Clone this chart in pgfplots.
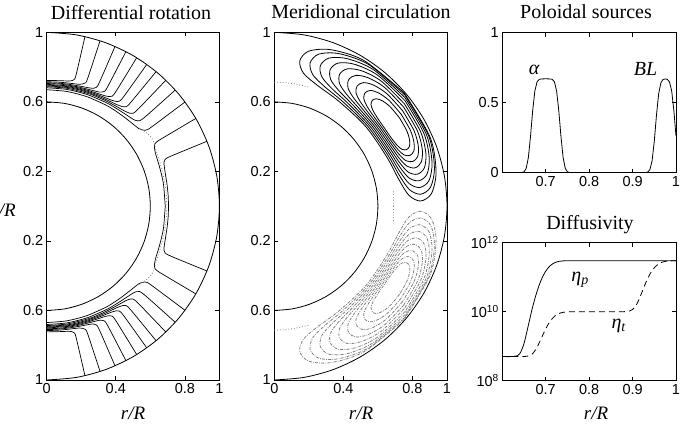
\documentclass[border=0pt]{standalone}
\usepackage{fontspec}
\setmainfont{Liberation Serif}
\setsansfont{Liberation Sans}
\usepackage{pgfplots}
\usepackage{pgfplotstable}
\pgfplotsset{compat=1.18}

\pgfplotsset{
  base/.style={scale only axis, axis line style={line width=0.7pt}, tick style={line width=0.6pt, black}, major tick length=4pt, tick align=inside,
    tick label style={font=\fontsize{14.5}{16}\selectfont\sffamily}, /pgf/number format/assume math mode=true},
  shell/.style={base, width=172.7pt, height=347.7pt, xmin=0, xmax=1, ymin=-1, ymax=1,
    xtick={0,0.4,0.8,1}, xticklabels={0,0.4,0.8,1},
    ytick={-1,-0.6,-0.2,0.2,0.6,1}, yticklabels={1,0.6,0.2,0.2,0.6,1}},
  mirror/.style={scale only axis, width=172.7pt, height=347.7pt, xmin=0, xmax=1, ymin=-1, ymax=1, y dir=reverse, hide axis},
  circ/.style={black, line width=0.8pt, smooth, data cs=polar},
  drs/.style={black, line width=0.7pt, smooth, tension=0.45, data cs=polar},
  dotl/.style={gray, line width=0.8pt, dotted, smooth, data cs=polar},
}

\pgfplotstableread{
lat r1 r6
-90 1 0.6
-80 1 0.6
-70 1 0.6
-60 1 0.6
-50 1 0.6
-40 1 0.6
-30 1 0.6
-20 1 0.6
-10 1 0.6
0 1 0.6
10 1 0.6
20 1 0.6
30 1 0.6
40 1 0.6
50 1 0.6
60 1 0.6
70 1 0.6
80 1 0.6
90 1 0.6
}\circles

\pgfplotstableread{
lat r
77.2 1
77.3 0.775
77.7 0.745
78.5 0.737
80 0.731
85 0.7248
90 0.7233
}\drA
\pgfplotstableread{
lat r
72 1
72.1 0.775
72.5 0.743
73.5 0.733
75 0.7255
80 0.719
85 0.7165
90 0.7155
}\drB
\pgfplotstableread{
lat r
66.7 1
66.8 0.775
67.2 0.741
68.2 0.730
70 0.7237
75 0.716
80 0.7123
85 0.7105
90 0.710
}\drC
\pgfplotstableread{
lat r
62.7 1
62.8 0.775
63.2 0.739
64.2 0.7285
65 0.7237
70 0.714
75 0.7097
80 0.7071
85 0.7058
90 0.7053
}\drD
\pgfplotstableread{
lat r
58.6 1
58.7 0.775
59.1 0.737
60.1 0.727
62 0.7188
65 0.713
70 0.7076
75 0.7044
80 0.7022
90 0.701
}\drE
\pgfplotstableread{
lat r
54.6 1
54.7 0.775
55.1 0.736
56.1 0.7252
58 0.717
60 0.7123
65 0.7058
70 0.7019
75 0.6994
80 0.6979
90 0.6967
}\drF
\pgfplotstableread{
lat r
50.7 1
50.8 0.775
51.2 0.734
52.2 0.723
55 0.7117
60 0.7039
65 0.6994
70 0.6965
75 0.6945
80 0.6932
90 0.6922
}\drG
\pgfplotstableread{
lat r
46.4 1
46.5 0.775
46.9 0.731
47.9 0.7202
50 0.7106
55 0.7013
60 0.6962
65 0.693
70 0.6907
80 0.688
90 0.6872
}\drH
\pgfplotstableread{
lat r
41.9 1
42.0 0.775
42.4 0.728
43.4 0.716
45 0.7072
50 0.6968
55 0.6914
60 0.6879
70 0.6835
80 0.6815
90 0.6808
}\drI
\pgfplotstableread{
lat r
36.8 1
36.85 0.775
37.0 0.731
37.5 0.7167
38.5 0.7051
40 0.6952
45 0.6852
50 0.68
55 0.677
60 0.6745
70 0.6712
80 0.6698
90 0.6695
}\drJ
\pgfplotstableread{
lat r
30.3 1
30.25 0.775
30.1 0.736
29.8 0.7223
28.8 0.7116
27 0.7031
25 0.6978
20 0.6919
15 0.689
10 0.6875
0 0.6865
}\drK
\pgfplotstableread{
lat r
21.9 1
21.8 0.775
21.4 0.736
20.4 0.7242
18 0.717
15 0.7117
10 0.7078
5 0.706
0 0.7055
}\drL
\pgfplotstableread{
lat r
40 0.70
37 0.712
34 0.722
31 0.722
28 0.712
22 0.703
14 0.698
6 0.696
0 0.695
}\drdot

\pgfplotstableread{
a0 r0 a1 r1 a2 r2 a3 r3 a4 r4 a5 r5 a6 r6 a7 r7 a8 r8
41 0.995 40.25 0.99 39.5 0.981 38.75 0.97 38 0.956 37.25 0.941 36.5 0.9236 35.75 0.905 35 0.885
58.24 0.9854 56.0 0.9809 53.75 0.9725 51.51 0.9622 49.27 0.949 47.03 0.9348 44.79 0.9183 42.55 0.9006 40.3 0.8816
70.05 0.9574 66.78 0.9543 63.52 0.9477 60.26 0.9394 56.99 0.9284 53.73 0.9166 50.47 0.9027 47.2 0.8878 43.94 0.8716
77.46 0.9127 73.56 0.9119 69.65 0.9082 65.75 0.903 61.84 0.8957 57.93 0.8877 54.03 0.878 50.12 0.8673 46.22 0.8557
80 0.8475 75.875 0.85 71.75 0.8505 67.625 0.85 63.5 0.848 59.375 0.8455 55.25 0.8418 51.125 0.8375 47 0.8325
77.46 0.7823 73.56 0.7881 69.65 0.7928 65.75 0.797 61.84 0.8003 57.93 0.8033 54.03 0.8056 50.12 0.8077 46.22 0.8093
70.05 0.7376 66.78 0.7457 63.52 0.7533 60.26 0.7606 56.99 0.7676 53.73 0.7744 50.47 0.7809 47.2 0.7872 43.94 0.7934
58.24 0.7096 56.0 0.7191 53.75 0.7285 51.51 0.7378 49.27 0.747 47.03 0.7562 44.79 0.7653 42.55 0.7744 40.3 0.7834
41 0.70 40.25 0.71 39.5 0.72 38.75 0.73 38 0.74 37.25 0.75 36.5 0.76 35.75 0.77 35 0.78
23.76 0.7096 24.5 0.7191 25.25 0.7285 25.99 0.7378 26.73 0.747 27.47 0.7562 28.21 0.7653 28.95 0.7744 29.7 0.7834
11.95 0.7376 13.72 0.7457 15.48 0.7533 17.24 0.7606 19.01 0.7676 20.77 0.7744 22.53 0.7809 24.3 0.7872 26.06 0.7934
4.54 0.7823 6.94 0.7881 9.35 0.7928 11.75 0.797 14.16 0.8003 16.57 0.8033 18.97 0.8056 21.38 0.8077 23.78 0.8093
2 0.8475 4.625 0.85 7.25 0.8505 9.875 0.85 12.5 0.848 15.125 0.8455 17.75 0.8418 20.375 0.8375 23 0.8325
4.54 0.9127 6.94 0.9119 9.35 0.9082 11.75 0.903 14.16 0.8957 16.57 0.8877 18.97 0.878 21.38 0.8673 23.78 0.8557
11.95 0.9574 13.72 0.9543 15.48 0.9477 17.24 0.9394 19.01 0.9284 20.77 0.9166 22.53 0.9027 24.3 0.8878 26.06 0.8716
23.76 0.9854 24.5 0.9809 25.25 0.9725 25.99 0.9622 26.73 0.949 27.47 0.9348 28.21 0.9183 28.95 0.9006 29.7 0.8816
41 0.995 40.25 0.99 39.5 0.981 38.75 0.97 38 0.956 37.25 0.941 36.5 0.9236 35.75 0.905 35 0.885
}\mcl

\pgfplotstableread{
lat r
90 0.713
85 0.713
80 0.713
74 0.713
}\mcdotA
\pgfplotstableread{
lat r
0 0.690
4 0.692
8 0.697
}\mcdotB

\pgfplotstableread{
r s
0.60 0
0.645 0.0006
0.65 0.0054
0.655 0.030
0.66 0.108
0.665 0.26
0.67 0.445
0.675 0.584
0.68 0.648
0.685 0.666
0.69 0.669
0.70 0.67
0.71 0.669
0.715 0.666
0.72 0.648
0.725 0.584
0.73 0.445
0.735 0.26
0.74 0.108
0.745 0.030
0.75 0.0054
0.755 0.0006
0.76 0
0.925 0
0.93 0.0004
0.935 0.0037
0.94 0.022
0.945 0.086
0.95 0.225
0.955 0.41
0.96 0.562
0.965 0.640
0.97 0.665
0.975 0.669
0.98 0.666
0.985 0.648
0.99 0.584
0.995 0.445
1.0 0.26
}\pol

\pgfplotstableread{
r ep et
0.60 5e8 5e8
0.62 5e8 5e8
0.63 5.1e8 5e8
0.64 6.0e8 5e8
0.65 1.2e9 5e8
0.66 4.05e9 5.2e8
0.67 1.4e10 6.1e8
0.68 3.87e10 9.3e8
0.69 8.6e10 1.72e9
0.70 1.5e11 3.2e9
0.71 2.14e11 5.25e9
0.72 2.61e11 7.3e9
0.73 2.87e11 8.8e9
0.74 2.97e11 9.6e9
0.75 3.0e11 9.9e9
0.76 3.0e11 1.0e10
0.80 3.0e11 1.0e10
0.88 3.0e11 1.0e10
0.90 3.0e11 1.16e10
0.91 3.0e11 1.69e10
0.92 3.0e11 3.28e10
0.93 3.0e11 6.74e10
0.94 3.0e11 1.23e11
0.95 3.0e11 1.87e11
0.96 3.0e11 2.43e11
0.97 3.0e11 2.77e11
0.98 3.0e11 2.93e11
0.99 3.0e11 2.98e11
1.00 3.0e11 3.0e11
}\dif

\newcommand\drlines{%
  \addplot[drs] table {\drA};
  \addplot[drs] table {\drB};
  \addplot[drs] table {\drC};
  \addplot[drs] table {\drD};
  \addplot[drs] table {\drE};
  \addplot[drs] table {\drF};
  \addplot[drs] table {\drG};
  \addplot[drs] table {\drH};
  \addplot[drs] table {\drI};
  \addplot[drs] table {\drJ};
  \addplot[drs] table {\drK};
  \addplot[drs] table {\drL};
  \addplot[dotl] table {\drdot};
}

\begin{document}
\begin{tikzpicture}
\useasboundingbox (0,0) rectangle (684pt,423pt);

% ---- Differential rotation ----
\begin{axis}[shell, at={(46.7pt,43pt)}, anchor=south west]
  \addplot[circ] table[x=lat,y=r1] {\circles};
  \addplot[circ] table[x=lat,y=r6] {\circles};
  \drlines
\end{axis}
\begin{axis}[mirror, at={(46.7pt,43pt)}, anchor=south west]
  \drlines
\end{axis}

% ---- Meridional circulation ----
\begin{axis}[shell, at={(274.3pt,43pt)}, anchor=south west]
  \addplot[circ] table[x=lat,y=r1] {\circles};
  \addplot[circ] table[x=lat,y=r6] {\circles};
  \pgfplotsinvokeforeach{0,...,8}{
    \addplot[black, line width=0.8pt, smooth, data cs=polar] table[x=a#1,y=r#1] {\mcl};
  }
  \addplot[dotl] table {\mcdotA};
  \addplot[dotl] table {\mcdotB};
\end{axis}
\begin{axis}[mirror, at={(274.3pt,43pt)}, anchor=south west]
  \pgfplotsinvokeforeach{0,...,8}{
    \addplot[gray, line width=0.8pt, smooth, data cs=polar, dash pattern=on 3pt off 1.2pt on 0.8pt off 1.2pt] table[x=a#1,y=r#1] {\mcl};
  }
  \addplot[dotl] table {\mcdotA};
  \addplot[dotl] table {\mcdotB};
\end{axis}

% ---- Poloidal sources ----
\begin{axis}[base, at={(502.3pt,250.4pt)}, anchor=south west, width=173.7pt, height=140pt,
  xmin=0.6, xmax=1, ymin=0, ymax=1, xtick={0.7,0.8,0.9,1}, ytick={0,0.5,1}]
  \addplot[black, line width=0.8pt] table[x=r,y=s] {\pol};
  \node[anchor=base, font=\fontsize{20}{24}\selectfont\itshape] at (axis cs:0.673,0.70) {α};
  \node[anchor=base, font=\fontsize{20}{24}\selectfont\itshape] at (axis cs:0.930,0.69) {BL};
\end{axis}

% ---- Diffusivity ----
\begin{axis}[base, at={(502.3pt,42.3pt)}, anchor=south west, width=173.7pt, height=138pt,
  xmin=0.6, xmax=1, ymode=log, ymin=1e8, ymax=1e12, xtick={0.7,0.8,0.9,1},
  ytick={1e8,1e10,1e12}, yticklabels={10\textsuperscript{8},10\textsuperscript{10},10\textsuperscript{12}}]
  \addplot[black, line width=0.8pt, smooth] table[x=r,y=ep] {\dif};
  \addplot[black, line width=0.8pt, smooth, dash pattern=on 6pt off 4pt] table[x=r,y=et] {\dif};
  \node[anchor=base, font=\fontsize{20}{24}\selectfont\itshape] at (axis cs:0.779,7.4e10) {η\textsubscript{p}};
  \node[anchor=base, font=\fontsize{20}{24}\selectfont\itshape] at (axis cs:0.868,3.3e9) {η\textsubscript{t}};
\end{axis}

% ---- titles and labels ----
\begin{scope}[every node/.style={font=\fontsize{20}{24}\selectfont}]
  \node[anchor=base] at (131pt,403.7pt) {Differential rotation};
  \node[anchor=base] at (361pt,404.7pt) {Meridional circulation};
  \node[anchor=base] at (586pt,404.7pt) {Poloidal sources};
  \node[anchor=base] at (590pt,193.7pt) {Diffusivity};
\end{scope}
\begin{scope}[every node/.style={font=\fontsize{19}{22}\selectfont\itshape, inner sep=1pt}]
  \node[anchor=base] at (133pt,4pt) {r/R};
  \node[anchor=base] at (361pt,4pt) {r/R};
  \node[anchor=base] at (596pt,4pt) {r/R};
  \node[anchor=base east] at (17pt,206.3pt) {r/R};
\end{scope}
\end{tikzpicture}
\end{document}
